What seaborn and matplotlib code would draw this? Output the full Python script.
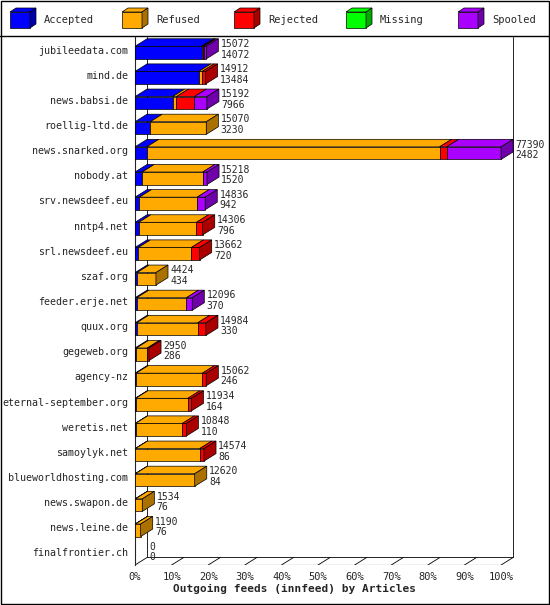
import matplotlib
matplotlib.use("Agg")
import matplotlib.pyplot as plt
from matplotlib.patches import Polygon, Rectangle
import numpy as np
import seaborn as sns

hosts = ["jubileedata.com", "mind.de", "news.babsi.de", "roellig-ltd.de", "news.snarked.org",
         "nobody.at", "srv.newsdeef.eu", "nntp4.net", "srl.newsdeef.eu", "szaf.org",
         "feeder.erje.net", "quux.org", "gegeweb.org", "agency-nz", "eternal-september.org",
         "weretis.net", "samoylyk.net", "blueworldhosting.com", "news.swapon.de",
         "news.leine.de", "finalfrontier.ch"]
totals   = [15072, 14912, 15192, 15070, 77390, 15218, 14836, 14306, 13662, 4424, 12096,
            14984, 2950, 15062, 11934, 10848, 14574, 12620, 1534, 1190, 0]
accepted = [14072, 13484, 7966, 3230, 2482, 1520, 942, 796, 720, 434, 370,
            330, 286, 246, 164, 110, 86, 84, 76, 76, 0]
refused  = [200, 700, 800, 11840, 61900, 12800, 12200, 12200, 11200, 3990, 10500,
            12900, 2300, 14000, 11000, 9900, 13600, 12536, 1458, 1114, 0]
rejected = [300, 728, 3800, 0, 1500, 0, 0, 1310, 1742, 0, 0,
            1754, 364, 816, 770, 838, 888, 0, 0, 0, 0]
missing  = [0] * 21
spooled  = [500, 0, 2626, 0, 11508, 898, 1694, 0, 0, 0, 1226,
            0, 0, 0, 0, 0, 0, 0, 0, 0, 0]

series = ["Accepted", "Refused", "Rejected", "Missing", "Spooled"]
colors = ["#0000ff", "#ffaa00", "#ff0000", "#00ff00", "#aa00ff"]
sides  = ["#0000aa", "#aa7000", "#aa0000", "#00aa00", "#7000aa"]
ticks = [0, 10, 20, 30, 40, 50, 60, 70, 80, 90, 100]

sns.set_style("white")
plt.rcParams["font.family"] = ["DejaVu Sans Mono"]

fig = plt.figure(figsize=(5.5, 6.05), dpi=100)
ax = fig.add_axes([135 / 550, 1 - 565 / 605, 410 / 550, 528 / 605])

n = len(hosts)
dx, dy, h = 3.3, 0.3, 0.5
mx = max(totals)
vals = np.array([accepted, refused, rejected, missing, spooled], dtype=float)

for i in range(n):
    yc = i + 0.12
    left = 0.0
    last = None
    for k in range(5):
        w = vals[k, i] / mx * 100
        if w <= 0:
            continue
        ax.add_patch(Rectangle((left, yc - h / 2), w, h, fc=colors[k], ec="black", lw=0.5, zorder=3))
        top = [(left, yc - h / 2), (left + w, yc - h / 2), (left + w + dx, yc - h / 2 - dy), (left + dx, yc - h / 2 - dy)]
        ax.add_patch(Polygon(top, fc=colors[k], ec="black", lw=0.5, zorder=3))
        left += w
        last = k
    if last is not None:
        side = [(left, yc - h / 2), (left, yc + h / 2), (left + dx, yc + h / 2 - dy), (left + dx, yc - h / 2 - dy)]
        ax.add_patch(Polygon(side, fc=sides[last], ec="black", lw=0.5, zorder=3))
    end = totals[i] / mx * 100 + dx + 0.6
    ax.text(end, i - 0.22, str(totals[i]), fontsize=7, va="center", ha="left", zorder=4)
    ax.text(end, i + 0.2, str(accepted[i]), fontsize=7, va="center", ha="left", zorder=4)

ybot = n - 0.5
ax.set_ylim(ybot, -0.5)
ax.set_xlim(0, 112)
ax.plot([dx, dx], [-0.5, ybot - dy], color="black", lw=0.6, zorder=1)
ax.plot([100 + dx, 100 + dx], [-0.5, ybot - dy], color="black", lw=0.6, zorder=1)
ax.plot([dx, 100 + dx], [ybot - dy, ybot - dy], color="black", lw=0.6, zorder=1)
for t in ticks:
    ax.plot([t, t + dx], [ybot, ybot - dy], color="black", lw=0.6, zorder=1)
ax.plot([0, 100], [ybot, ybot], color="black", lw=0.8, zorder=2)

ax.set_yticks(range(n))
ax.set_yticklabels(hosts, fontsize=7.2)
ax.set_xticks(ticks)
ax.set_xticklabels([f"{t}%" for t in ticks], fontsize=7.5)
ax.tick_params(length=3, pad=2)
for s in ["top", "right", "bottom"]:
    ax.spines[s].set_visible(False)
ax.spines["left"].set_linewidth(0.8)
ax.set_xlabel("Outgoing feeds (innfeed) by Articles", fontsize=8, fontweight="bold", labelpad=1)
ax.xaxis.set_label_coords(0.39, -0.035)

# legend
fig.add_artist(plt.Line2D([0, 1], [1 - 36 / 605] * 2, color="black", lw=1))
fig.add_artist(Rectangle((0.001, 0.001), 0.997, 0.997, fill=False, ec="black", lw=1))
W, H = 550, 605
for k, name in enumerate(series):
    x0 = 10 + k * 112
    y0 = 8
    bx, by, bs, d = x0, H - y0 - 20, 20, 6
    fig.add_artist(Rectangle((bx / W, by / H), bs / W, 16 / H, fc=colors[k], ec="black", lw=0.5))
    fig.add_artist(Polygon([(bx / W, (by + 16) / H), ((bx + bs) / W, (by + 16) / H),
                            ((bx + bs + d) / W, (by + 16 + 4) / H), ((bx + d) / W, (by + 16 + 4) / H)],
                           fc=colors[k], ec="black", lw=0.5))
    fig.add_artist(Polygon([((bx + bs) / W, by / H), ((bx + bs) / W, (by + 16) / H),
                            ((bx + bs + d) / W, (by + 20) / H), ((bx + bs + d) / W, (by + 4) / H)],
                           fc=sides[k], ec="black", lw=0.5))
    fig.text((x0 + 34) / W, 1 - 20 / H, name, fontsize=7.5, va="center", ha="left")

fig.savefig("out.png", dpi=100)
